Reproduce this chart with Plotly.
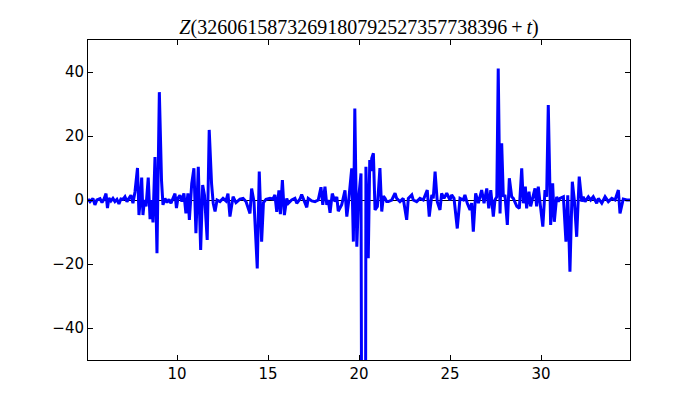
import plotly.graph_objects as go

t_values = [
    5.11, 5.22, 5.38, 5.49, 5.60, 5.77, 5.88, 5.99, 6.10, 6.18, 6.26, 6.37, 6.48, 6.59, 6.70, 6.81,
    6.92, 7.03, 7.14, 7.25, 7.36, 7.47, 7.58, 7.69, 7.83, 7.91, 7.99, 8.06, 8.13, 8.21, 8.30, 8.42,
    8.52, 8.60, 8.68, 8.79, 8.90, 9.03, 9.15, 9.23, 9.34, 9.45, 9.56, 9.67, 9.78, 9.89, 9.97, 10.05,
    10.16, 10.27, 10.38, 10.49, 10.60, 10.68, 10.81, 10.93, 11.04, 11.17, 11.30, 11.41, 11.51, 11.66,
    11.77, 11.90, 11.99, 12.09, 12.20, 12.36, 12.53, 12.69, 12.80, 12.91, 13.08, 13.24, 13.46, 13.63,
    13.79, 14.01, 14.10, 14.23, 14.41, 14.52, 14.65, 14.75, 14.89, 15.11, 15.27, 15.38, 15.48, 15.60,
    15.68, 15.79, 15.90, 16.03, 16.12, 16.30, 16.48, 16.58, 16.76, 16.85, 17.13, 17.21, 17.40, 17.58,
    17.76, 17.91, 18.01, 18.13, 18.23, 18.31, 18.41, 18.53, 18.68, 18.78, 18.86, 19.05, 19.23, 19.33,
    19.42, 19.60, 19.69, 19.77, 19.88, 19.97, 20.11, 20.19, 20.33, 20.38, 20.51, 20.59, 20.66, 20.70,
    20.79, 20.88, 21.01, 21.15, 21.25, 21.34, 21.43, 21.52, 21.61, 21.80, 21.98, 22.07, 22.25, 22.43,
    22.62, 22.71, 22.90, 22.98, 23.17, 23.35, 23.53, 23.75, 23.86, 24.00, 24.08, 24.18, 24.30, 24.45,
    24.54, 24.67, 24.82, 25.00, 25.09, 25.22, 25.40, 25.55, 25.73, 25.82, 25.95, 26.10, 26.19, 26.28,
    26.41, 26.56, 26.74, 26.87, 27.02, 27.13, 27.24, 27.38, 27.47, 27.57, 27.65, 27.75, 27.84, 27.93,
    28.02, 28.15, 28.26, 28.39, 28.48, 28.57, 28.67, 28.81, 28.94, 29.03, 29.14, 29.21, 29.34, 29.43,
    29.54, 29.67, 29.76, 29.85, 29.95, 30.10, 30.22, 30.31, 30.40, 30.53, 30.64, 30.73, 30.86, 30.95,
    31.04, 31.23, 31.37, 31.47, 31.59, 31.72, 31.83, 31.96, 32.10, 32.24, 32.32, 32.42, 32.60, 32.73,
    32.87, 33.06, 33.15, 33.34, 33.52, 33.70, 33.89, 34.07, 34.25, 34.34, 34.52, 34.71, 34.89,
]

z_values = [
    0.3, -0.5, 0.5, -1.5, 0.0, 0.4, -0.8, 0.3, 2.0, -2.5, 0.6, -0.3, 0.5, -0.5, 0.2, -1.2,
    0.3, 0.2, 1.0, -0.5, 0.5, 1.5, -1.0, 2.5, 10.0, -4.7, 0.5, 7.0, -4.7, 0.0, -2.0, 7.0,
    -6.0, 0.0, -7.0, 13.4, -16.6, 33.7, 6.0, -1.5, 0.5, -0.8, 0.2, -1.0, 0.5, 2.0, -2.5, 0.5,
    1.5, -0.5, 2.1, -4.2, 2.1, -6.2, 5.2, 9.9, -10.4, 10.4, -15.6, 4.7, 1.5, -12.5,
    21.9, 5.0, -1.0, -3.6, 0.0, -0.5, 0.5, -0.3, 2.0, -5.2, 1.0, -0.8, 0.3, 0.5,
    -0.5, -4.2, 3.6, -0.5, -21.4, 8.9, -13.0, -0.8, 0.2, 0.5, 0.3, 1.6, -3.7, 3.0,
    -4.4, 6.2, -4.7, 0.5, -1.0, 0.0, 0.5, -1.0, 0.3, 1.7, -2.3, 0.5, -0.3, -0.5,
    0.0, 4.0, -1.5, 4.2, -1.5, 0.0, -4.0, 2.0, -0.5, 1.0, -3.5, -1.5, 3.0, -5.2,
    -1.0, 9.9, -13.0, 28.6, -14.6, 0.0, 8.3, -180.0, -190.0, 10.4, -18.2, 12.5, 9.0, 13.0,
    14.6, -3.1, -2.0, 10.0, -3.6, 1.2, 0.5, -0.5, -0.5, 0.0, 2.1, 0.5, -0.5, 0.5,
    -6.2, 0.5, 1.6, 0.0, -0.5, 0.5, 0.0, 3.1, -5.2, 1.6, 0.5, 8.9, -0.5, -3.1,
    2.1, 0.5, 2.1, 0.0, 1.6, 0.5, -8.9, 0.5, 0.0, 1.6, -1.0, -3.1, -1.0, -9.9,
    2.1, -1.0, 3.1, -1.0, 3.6, -2.6, 3.1, -5.2, 0.0, 1.0, 41.1, -4.2, 17.7, 1.0,
    1.6, -7.8, 6.8, 1.0, 0.5, -1.0, -2.0, -2.6, 9.9, -1.0, 4.2, -2.6, 2.6, -2.0,
    0.5, 3.6, -2.0, 4.2, -1.0, -8.3, 3.1, 1.0, 29.7, -7.8, 5.2, -6.8, 1.0, -0.5,
    0.5, 1.0, -13.0, 1.5, -22.4, 5.7, 0.0, -11.5, 7.3, -0.5, 1.0, -0.5, 1.0, 0.0,
    1.0, -1.0, 0.5, -1.0, 1.0, -0.5, 0.5, 0.0, 3.1, -4.2, 0.3, 0.0, 0.0,
]

x_ticks = [10, 15, 20, 25, 30]
y_ticks = [-40, -20, 0, 20, 40]
title_text = "<i>Z</i>(3260615873269180792527357738396\u2009+\u2009<i>t</i>)"

fig = go.Figure()
fig.add_trace(go.Scatter(
    x=t_values, y=z_values, mode="lines",
    line=dict(color="#0000ff", width=3),
    hoverinfo="skip", showlegend=False,
))

axis_common = dict(
    showline=True, linecolor="black", linewidth=1, mirror="ticks",
    ticks="inside", ticklen=5, tickwidth=1, tickcolor="black",
    showgrid=False,
    tickfont=dict(family="DejaVu Sans", size=15, color="black"),
)

fig.update_xaxes(range=[min(t_values), max(t_values)], tickvals=x_ticks,
                 zeroline=False, **axis_common)
fig.update_yaxes(range=[-50, 50], tickvals=y_ticks,
                 zeroline=True, zerolinecolor="black", zerolinewidth=1,
                 **axis_common)

fig.update_layout(
    width=692, height=392,
    margin=dict(l=80, r=70, t=32, b=40),
    paper_bgcolor="white", plot_bgcolor="white",
    title=dict(text=title_text, x=0.5, xref="paper", xanchor="center",
               y=1 - 19 / 392, yanchor="middle",
               font=dict(family="Liberation Serif", size=20, color="black")),
)

fig.write_html("out.html")
